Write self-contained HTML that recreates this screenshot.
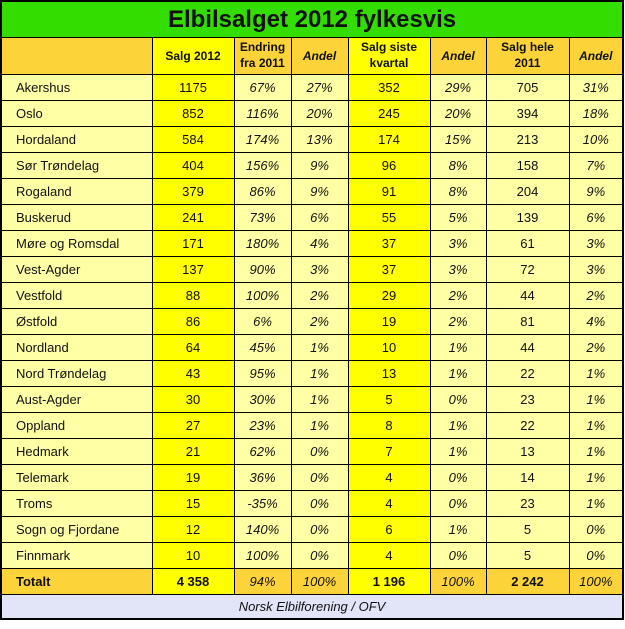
<!DOCTYPE html>
<html><head><meta charset="utf-8"><style>
body{margin:0;background:#fff;font-family:"Liberation Sans",sans-serif;}
table{position:absolute;left:0;top:0;border-collapse:collapse;table-layout:fixed;width:622px;border:2px solid #000;}
td{border:1px solid #000;text-align:center;font-size:13px;padding:0;color:#111;white-space:nowrap;overflow:hidden}
.t td{height:35px;background:#33dd00;font-size:24px;font-weight:bold;}
.h td{height:35px;background:#fdd33a;font-weight:bold;font-size:12px;line-height:16px;white-space:normal;vertical-align:top;padding-top:1px}
.h td.m{vertical-align:middle;padding-top:0;height:36px}
.d td{height:25px;background:#ffffa6;}
.d td.n{text-align:left;padding-left:14px}
td.y{background:#ffff00 !important}
.i{font-style:italic}
.tot td{height:25px;background:#fdd33a;font-weight:bold}
.tot td.i{font-weight:normal}
.f td{height:23px;background:#e2e4f8;font-style:italic}
</style></head><body>
<table>
<colgroup><col style="width:151px"><col style="width:82px"><col style="width:57px"><col style="width:57px"><col style="width:82px"><col style="width:56px"><col style="width:83px"><col style="width:54px"></colgroup>
<tr class="t"><td colspan="8">Elbilsalget 2012 fylkesvis</td></tr>
<tr class="h"><td class="m"></td><td class="y m">Salg 2012</td><td>Endring fra 2011</td><td class="i m">Andel</td><td class="y">Salg siste kvartal</td><td class="i m">Andel</td><td>Salg hele 2011</td><td class="i m">Andel</td></tr>
<tbody id="body"></tbody>
<tr class="tot"><td style="text-align:left;padding-left:14px">Totalt</td><td class="y">4 358</td><td class="i">94%</td><td class="i">100%</td><td class="y">1 196</td><td class="i">100%</td><td>2 242</td><td class="i">100%</td></tr>
<tr class="f"><td colspan="8">Norsk Elbilforening / OFV</td></tr>
</table>
<script>
const regions=["Akershus","Oslo","Hordaland","Sør Trøndelag","Rogaland","Buskerud","Møre og Romsdal","Vest-Agder","Vestfold","Østfold","Nordland","Nord Trøndelag","Aust-Agder","Oppland","Hedmark","Telemark","Troms","Sogn og Fjordane","Finnmark"];
const sales2012=[1175,852,584,404,379,241,171,137,88,86,64,43,30,27,21,19,15,12,10];
const change=["67%","116%","174%","156%","86%","73%","180%","90%","100%","6%","45%","95%","30%","23%","62%","36%","-35%","140%","100%"];
const share2012=["27%","20%","13%","9%","9%","6%","4%","3%","2%","2%","1%","1%","1%","1%","0%","0%","0%","0%","0%"];
const salesQ4=[352,245,174,96,91,55,37,37,29,19,10,13,5,8,7,4,4,6,4];
const shareQ4=["29%","20%","15%","8%","8%","5%","3%","3%","2%","2%","1%","1%","0%","1%","1%","0%","0%","1%","0%"];
const sales2011=[705,394,213,158,204,139,61,72,44,81,44,22,23,22,13,14,23,5,5];
const share2011=["31%","18%","10%","7%","9%","6%","3%","3%","2%","4%","2%","1%","1%","1%","1%","1%","1%","0%","0%"];
const body=document.getElementById('body');
regions.forEach((r,i)=>{
 const tr=document.createElement('tr');tr.className='d';
 
 
 const cells=[[r,'n'],[sales2012[i],'y'],[change[i],'i'],[share2012[i],'i'],[salesQ4[i],'y'],[shareQ4[i],'i'],[sales2011[i],''],[share2011[i],'i']];
 cells.forEach(c=>{const td=document.createElement('td');td.textContent=c[0];if(c[1])td.className=c[1];tr.appendChild(td);});
 body.appendChild(tr);
});
</script>
</body></html>
